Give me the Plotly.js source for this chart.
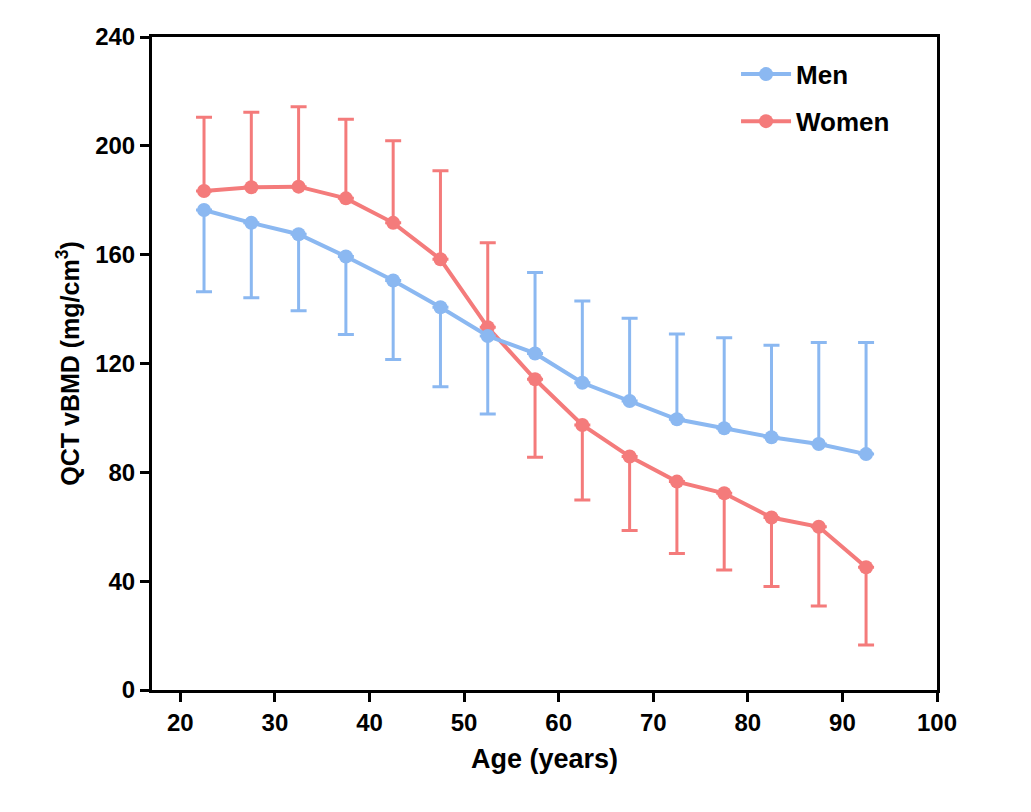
<!DOCTYPE html>
<html>
<head>
<meta charset="utf-8">
<script src="https://cdn.plot.ly/plotly-3.0.1.min.js"></script>
<style>html,body{margin:0;padding:0;background:#fff}#chart{width:1031px;height:812px}</style>
</head>
<body>
<div id="chart"></div>
<script>
// Age group midpoints (years)
const ages = [22.5, 27.5, 32.5, 37.5, 42.5, 47.5, 52.5, 57.5, 62.5, 67.5, 72.5, 77.5, 82.5, 87.5, 92.5];
// Mean QCT vBMD (mg/cm3)
const menMean   = [176.4, 171.7, 167.5, 159.3, 150.5, 140.7, 130.1, 123.7, 112.9, 106.2, 99.5, 96.2, 92.9, 90.4, 86.7];
const womenMean = [183.4, 184.8, 185.0, 180.7, 171.7, 158.3, 133.3, 114.2, 97.4, 85.8, 76.6, 72.3, 63.4, 60.0, 45.1];
// Standard deviations
const menSD   = [30.0, 27.5, 28.1, 28.6, 29.0, 29.2, 28.7, 29.7, 30.1, 30.4, 31.3, 33.3, 33.8, 37.3, 41.0];
const womenSD = [27.1, 27.5, 29.4, 29.1, 30.2, 32.5, 31.1, 28.7, 27.6, 27.2, 26.4, 28.2, 25.4, 29.1, 28.6];
// Error bars drawn one-sided: men downward / women upward up to this age, reversed after
const switchAge = 52.5;

const menColor = '#8BB8F1';
const womenColor = '#F47B7B';

const menPlus   = ages.map((a, i) => a <= switchAge ? 0 : menSD[i]);
const menMinus  = ages.map((a, i) => a <= switchAge ? menSD[i] : 0);
const womenPlus = ages.map((a, i) => a <= switchAge ? womenSD[i] : 0);
const womenMinus= ages.map((a, i) => a <= switchAge ? 0 : womenSD[i]);

const women = {
  x: ages, y: womenMean, name: 'Women', type: 'scatter', mode: 'lines+markers',
  line: {color: womenColor, width: 4},
  marker: {color: womenColor, size: 14},
  error_y: {type: 'data', symmetric: false, array: womenPlus, arrayminus: womenMinus,
            color: womenColor, thickness: 3, width: 8},
  legend: 'legend2'
};
const men = {
  x: ages, y: menMean, name: 'Men', type: 'scatter', mode: 'lines+markers',
  line: {color: menColor, width: 4},
  marker: {color: menColor, size: 14},
  error_y: {type: 'data', symmetric: false, array: menPlus, arrayminus: menMinus,
            color: menColor, thickness: 3, width: 8},
  legend: 'legend'
};

const fam = 'Liberation Sans, Arial, Helvetica, sans-serif';
const tickFont = {family: fam, size: 24, color: '#000', weight: 'bold'};

const legendCommon = {
  xref: 'paper', yref: 'paper', xanchor: 'left', yanchor: 'middle',
  bgcolor: 'rgba(0,0,0,0)', borderwidth: 0,
  font: {family: fam, size: 26, color: '#000', weight: 'bold'},
  itemwidth: 50
};

const layout = {
  width: 1031, height: 812,
  margin: {l: 152, r: 94, t: 37, b: 122},
  paper_bgcolor: '#fff', plot_bgcolor: '#fff',
  showlegend: true,
  legend: Object.assign({}, legendCommon, {x: 0.744, y: 0.943}),
  legend2: Object.assign({}, legendCommon, {x: 0.744, y: 0.871}),
  xaxis: {
    range: [17, 100], tickvals: [20, 30, 40, 50, 60, 70, 80, 90, 100],
    ticks: 'outside', ticklen: 9, tickwidth: 3, tickcolor: '#000',
    showline: true, linewidth: 3, linecolor: '#000', mirror: true,
    showgrid: false, zeroline: false,
    tickfont: tickFont,
    title: {text: 'Age (years)', font: {family: fam, size: 27, color: '#000', weight: 'bold'}, standoff: 15}
  },
  yaxis: {
    range: [0, 240], tickvals: [0, 40, 80, 120, 160, 200, 240],
    ticks: 'outside', ticklen: 9, tickwidth: 3, tickcolor: '#000',
    showline: true, linewidth: 3, linecolor: '#000', mirror: true,
    showgrid: false, zeroline: false,
    tickfont: tickFont,
    title: {text: 'QCT vBMD (mg/cm<sup>3</sup>)', font: {family: fam, size: 25, color: '#000', weight: 'bold'}, standoff: 9}
  }
};

Plotly.newPlot('chart', [women, men], layout, {displayModeBar: false, staticPlot: true});
</script>
</body>
</html>
